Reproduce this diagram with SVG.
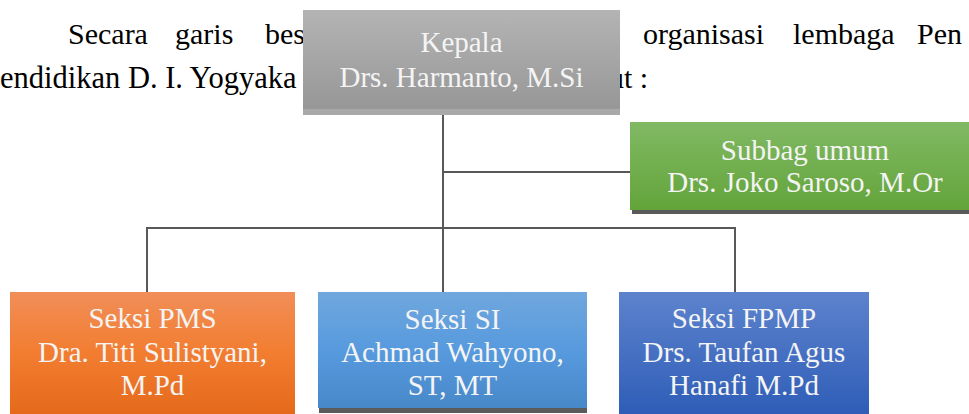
<svg xmlns="http://www.w3.org/2000/svg" width="969" height="414" viewBox="0 0 969 414">
<defs>
<linearGradient id="gGray" x1="0" y1="0" x2="0" y2="1"><stop offset="0" stop-color="#b4b4b4"/><stop offset="1" stop-color="#979797"/></linearGradient>
<linearGradient id="gGreen" x1="0" y1="0" x2="0" y2="1"><stop offset="0" stop-color="#81b964"/><stop offset="1" stop-color="#63a43a"/></linearGradient>
<linearGradient id="gOrange" x1="0" y1="0" x2="0" y2="1"><stop offset="0" stop-color="#f18e58"/><stop offset="0.5" stop-color="#f27d30"/><stop offset="1" stop-color="#e5691b"/></linearGradient>
<linearGradient id="gLBlue" x1="0" y1="0" x2="0" y2="1"><stop offset="0" stop-color="#70a7dd"/><stop offset="0.5" stop-color="#579ade"/><stop offset="1" stop-color="#4788c8"/></linearGradient>
<linearGradient id="gDBlue" x1="0" y1="0" x2="0" y2="1"><stop offset="0" stop-color="#5d83cd"/><stop offset="1" stop-color="#2f5db7"/></linearGradient>
</defs>
<style>
.body{font-size:30px;fill:#000}
.lbl{font-size:29px;fill:#f4f4f4;text-anchor:middle}
.conn line{stroke:#585858;stroke-width:2}
.shadow{fill:#5a5a5a}
</style>
<g font-family="'Liberation Serif', 'Times New Roman', serif">
<g id="bodytext" class="body">
<text x="68" y="44">Secara</text>
<text x="175" y="44">garis</text>
<text x="265" y="44">bes</text>
<text x="643" y="44">organisasi</text>
<text x="793" y="44">lembaga</text>
<text x="917" y="44">Pen</text>
<text x="0" y="88" style="font-size:30.5px">endidikan D. I. Yogyaka</text>
<text x="609" y="88">ut :</text>
</g>
<g id="connectors" class="conn">
<line x1="443" y1="110" x2="443" y2="292"/>
<line x1="443" y1="172" x2="630" y2="172"/>
<line x1="146" y1="228" x2="736" y2="228"/>
<line x1="147" y1="227" x2="147" y2="292"/>
<line x1="735" y1="227" x2="735" y2="292"/>
</g>
<g id="kepala">
<rect x="303" y="14" width="317" height="101" fill="#a9a9a9"/>
<rect x="303" y="10" width="317" height="99" fill="url(#gGray)"/>
<text class="lbl" x="461.5" y="52">Kepala</text>
<text class="lbl" x="461.5" y="87">Drs. Harmanto, M.Si</text>
</g>
<g id="subbag">
<rect class="shadow" x="632" y="125" width="360" height="89"/>
<rect x="630" y="122" width="360" height="88" fill="url(#gGreen)"/>
<text class="lbl" x="805" y="160">Subbag umum</text>
<text class="lbl" x="805" y="192">Drs. Joko Saroso, M.Or</text>
</g>
<g id="pms">
<rect class="shadow" x="11" y="296" width="284" height="120"/>
<rect x="10" y="292" width="285" height="122" fill="url(#gOrange)"/>
<text class="lbl" x="152.5" y="328">Seksi PMS</text>
<text class="lbl" x="152.5" y="362">Dra. Titi Sulistyani,</text>
<text class="lbl" x="152.5" y="395">M.Pd</text>
</g>
<g id="si">
<rect class="shadow" x="319" y="296" width="268" height="117"/>
<rect x="318" y="292" width="269" height="116" fill="url(#gLBlue)"/>
<text class="lbl" x="452.5" y="329">Seksi SI</text>
<text class="lbl" x="452.5" y="362">Achmad Wahyono,</text>
<text class="lbl" x="452.5" y="395">ST, MT</text>
</g>
<g id="fpmp">
<rect class="shadow" x="620" y="296" width="249" height="120"/>
<rect x="619" y="292" width="250" height="122" fill="url(#gDBlue)"/>
<text class="lbl" x="744" y="328">Seksi FPMP</text>
<text class="lbl" x="744" y="362">Drs. Taufan Agus</text>
<text class="lbl" x="744" y="395">Hanafi M.Pd</text>
</g>
</g>
</svg>
